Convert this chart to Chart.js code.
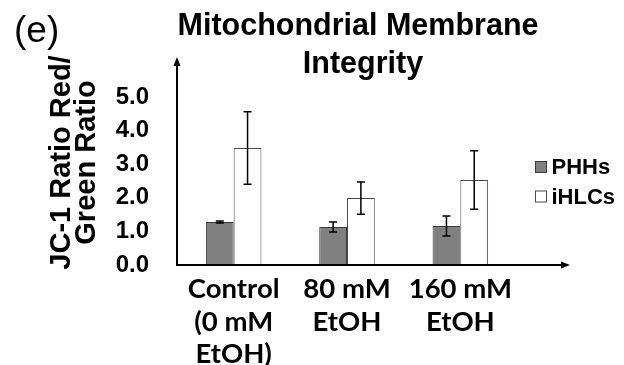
<!DOCTYPE html>
<html lang="en">
<head>
    <meta charset="UTF-8">
    <title>Mitochondrial Membrane Integrity</title>
    <script src="https://cdn.jsdelivr.net/npm/chart.js"></script>
    <style>
        html, body { margin: 0; padding: 0; background: #fff; }
        canvas { display: block; }
    </style>
</head>
<body>
    <canvas id="jc1Chart" width="624" height="365"></canvas>

    <script>
        // Data
        const categories = [['Control', '(0 mM', 'EtOH)'], ['80 mM', 'EtOH'], ['160 mM', 'EtOH']];
        const phhsValues = [1.28, 1.13, 1.16];
        const phhsErrors = [0.03, 0.15, 0.30];
        const ihlcValues = [3.48, 1.99, 2.53];
        const ihlcErrors = [1.08, 0.48, 0.87];
        const yTicks = [0, 1, 2, 3, 4, 5];
        const titleLines = ['Mitochondrial Membrane', 'Integrity'];

        const ARIAL = '"Liberation Sans", Arial, sans-serif';

        // error bars, arrow axes, title, legend and panel letter
        const decorPlugin = {
            id: 'decor',
            afterDatasetsDraw(chart) {
                const ctx = chart.ctx;
                const y = chart.scales.y;
                ctx.save();
                ctx.strokeStyle = '#000';
                ctx.lineWidth = 1.5;
                chart.data.datasets.forEach((ds, i) => {
                    chart.getDatasetMeta(i).data.forEach((bar, j) => {
                        const v = ds.data[j], e = ds.errors[j];
                        const top = y.getPixelForValue(v + e);
                        const bot = y.getPixelForValue(v - e);
                        ctx.beginPath();
                        ctx.moveTo(bar.x, top); ctx.lineTo(bar.x, bot);
                        ctx.moveTo(bar.x - 4, top); ctx.lineTo(bar.x + 4, top);
                        ctx.moveTo(bar.x - 4, bot); ctx.lineTo(bar.x + 4, bot);
                        ctx.stroke();
                    });
                });
                ctx.restore();
            },
            afterDraw(chart) {
                const ctx = chart.ctx;
                const a = chart.chartArea;
                ctx.save();
                ctx.strokeStyle = '#000';
                ctx.fillStyle = '#000';
                ctx.lineWidth = 2;

                // axes
                const xEnd = a.right + 51;
                ctx.beginPath();
                ctx.moveTo(a.left, a.top + 4);
                ctx.lineTo(a.left, a.bottom);
                ctx.lineTo(xEnd - 4, a.bottom);
                ctx.stroke();
                ctx.beginPath();
                ctx.moveTo(a.left, a.top - 3);
                ctx.lineTo(a.left - 3.5, a.top + 6);
                ctx.lineTo(a.left + 3.5, a.top + 6);
                ctx.closePath();
                ctx.fill();
                ctx.beginPath();
                ctx.moveTo(xEnd + 2, a.bottom);
                ctx.lineTo(xEnd - 7, a.bottom - 3.5);
                ctx.lineTo(xEnd - 7, a.bottom + 3.5);
                ctx.closePath();
                ctx.fill();

                // title (two centred lines over the plot)
                ctx.font = 'bold 30.5px ' + ARIAL;
                ctx.textAlign = 'center';
                ctx.textBaseline = 'middle';
                titleLines.forEach((line, i) => {
                    ctx.fillText(line, a.left + 181 + i * 5, 27 + i * 37.5);
                });

                // legend
                ctx.font = 'bold 22px ' + ARIAL;
                ctx.textAlign = 'left';
                chart.data.datasets.forEach((ds, i) => {
                    const cy = 167 + i * 29.5;
                    const bx = a.right + 18.5;
                    ctx.fillStyle = ds.backgroundColor;
                    ctx.fillRect(bx, cy - 5.5, 11, 11);
                    ctx.lineWidth = 1;
                    ctx.strokeStyle = ds.borderColor;
                    ctx.strokeRect(bx, cy - 5.5, 11, 11);
                    ctx.fillStyle = '#000';
                    ctx.fillText(ds.label, bx + 16, cy + 1);
                });

                // panel letter
                ctx.font = '37px ' + ARIAL;
                ctx.textBaseline = 'alphabetic';
                ctx.fillText('(e)', 14, 42);
                ctx.restore();
            }
        };

        new Chart(document.getElementById('jc1Chart'), {
            type: 'bar',
            data: {
                labels: categories,
                datasets: [
                    {
                        label: 'PHHs',
                        data: phhsValues,
                        errors: phhsErrors,
                        backgroundColor: '#808080',
                        borderColor: '#3a3a3a',
                        borderWidth: 1
                    },
                    {
                        label: 'iHLCs',
                        data: ihlcValues,
                        errors: ihlcErrors,
                        backgroundColor: '#ffffff',
                        borderColor: '#4a4a4a',
                        borderWidth: 1
                    }
                ]
            },
            options: {
                responsive: false,
                animation: false,
                layout: { padding: { left: 0, right: 107, top: 60, bottom: 0 } },
                datasets: { bar: { barPercentage: 1, categoryPercentage: 0.49 } },
                plugins: {
                    legend: { display: false },
                    tooltip: { enabled: false },
                    title: { display: false }
                },
                scales: {
                    x: {
                        afterFit: scale => { scale.height = 100; },
                        grid: { display: false, drawTicks: false },
                        border: { display: false },
                        ticks: {
                            color: '#000',
                            padding: 8,
                            maxRotation: 0,
                            autoSkip: false,
                            font: { family: 'Lato, "Open Sans", sans-serif', size: 27.5, weight: 'bold', lineHeight: 1.18 }
                        }
                    },
                    y: {
                        min: 0,
                        max: 6.1,
                        afterBuildTicks: scale => { scale.ticks = yTicks.map(v => ({ value: v })); },
                        afterFit: scale => { scale.width = 177; },
                        grid: { display: false, drawTicks: false },
                        border: { display: false },
                        ticks: {
                            color: '#000',
                            padding: 28,
                            font: { family: ARIAL, size: 24, weight: 'bold' },
                            callback: v => v.toFixed(1)
                        },
                        title: {
                            display: true,
                            text: ['JC-1 Ratio Red/', 'Green Ratio'],
                            color: '#000',
                            font: { family: ARIAL, size: 29, weight: 'bold', lineHeight: 0.84 },
                            padding: { top: 50, bottom: 0 }
                        }
                    }
                }
            },
            plugins: [decorPlugin]
        });
    </script>
</body>
</html>
